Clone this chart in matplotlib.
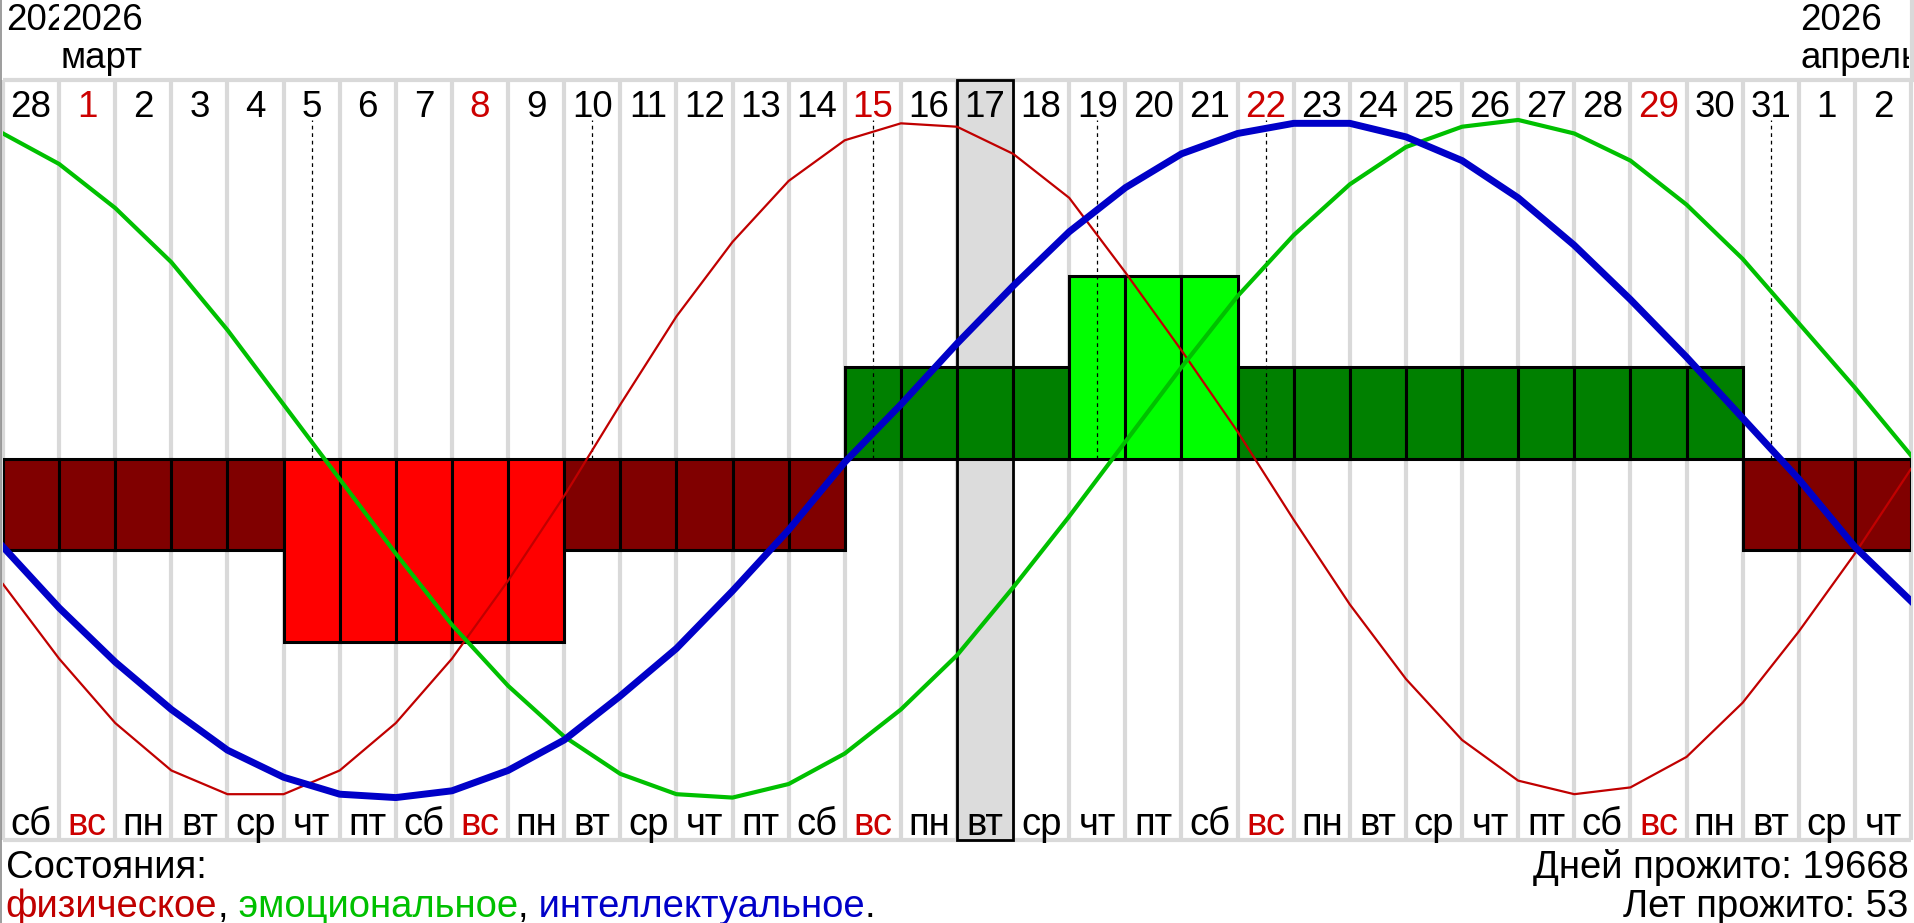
import matplotlib
matplotlib.use('Agg')
import matplotlib.pyplot as plt
import matplotlib.transforms as mtransforms
from matplotlib.patches import Rectangle

plt.rcParams['font.family'] = ['Liberation Sans', 'DejaVu Sans']

# columns: 28 Feb .. 2 Apr 2026
day_labels = ['28', '1', '2', '3', '4', '5', '6', '7', '8', '9', '10', '11', '12', '13', '14', '15', '16',
              '17', '18', '19', '20', '21', '22', '23', '24', '25', '26', '27', '28', '29', '30', '31', '1', '2']
week_labels = ['сб', 'вс', 'пн', 'вт', 'ср', 'чт', 'пт', 'сб', 'вс', 'пн', 'вт', 'ср', 'чт', 'пт', 'сб', 'вс', 'пн',
               'вт', 'ср', 'чт', 'пт', 'сб', 'вс', 'пн', 'вт', 'ср', 'чт', 'пт', 'сб', 'вс', 'пн', 'вт', 'ср', 'чт']
sunday_cols = [1, 8, 15, 22, 29]
today_col = 17
critical_cols = [5, 10, 15, 19, 22, 31]

# combined state per day: -2 .. 2
bar_levels = [-1, -1, -1, -1, -1, -2, -2, -2, -2, -2, -1, -1, -1, -1, -1, 1, 1, 1, 1,
              2, 2, 2, 1, 1, 1, 1, 1, 1, 1, 1, 1, -1, -1, -1]

# biorhythm values at column edges (35 points)
phys = [-0.37, -0.59, -0.78, -0.92, -0.99, -0.99, -0.92, -0.78, -0.59, -0.36, -0.11, 0.16, 0.42, 0.64,
        0.82, 0.94, 0.99, 0.98, 0.90, 0.77, 0.55, 0.32, 0.08, -0.18, -0.43, -0.65, -0.83, -0.95,
        -0.99, -0.97, -0.88, -0.72, -0.51, -0.28, -0.03]
emo = [0.96, 0.87, 0.74, 0.58, 0.38, 0.16, -0.06, -0.28, -0.49, -0.67, -0.82, -0.93, -0.99, -1.00,
       -0.96, -0.87, -0.74, -0.58, -0.38, -0.17, 0.05, 0.27, 0.48, 0.66, 0.81, 0.92, 0.98, 1.00,
       0.96, 0.88, 0.75, 0.59, 0.40, 0.21, 0.01]
intel = [-0.26, -0.44, -0.60, -0.74, -0.86, -0.94, -0.99, -1.00, -0.98, -0.92, -0.83, -0.70, -0.56,
         -0.39, -0.21, -0.01, 0.16, 0.34, 0.51, 0.67, 0.80, 0.90, 0.96, 0.99, 0.99, 0.95, 0.88, 0.77,
         0.63, 0.47, 0.30, 0.12, -0.06, -0.26, -0.42]

days_lived = 19668
years_lived = 53

# colors
clrPhys = '#c00000'
clrEmo = '#00c000'
clrIntel = '#0000c8'
clrSunday = '#cc0000'
clrGrid = '#d9d9d9'
bar_colors = {-2: '#ff0000', -1: '#800000', 1: '#008000', 2: '#00ff00'}
BAR_UNIT = 0.27
fsTop = 26.5
fsDay = 26.5
fsWeek = 27.5
fsInfo = 27.5

fig = plt.figure(figsize=(19.15, 9.23), dpi=100)
ax = fig.add_axes([3 / 1915, 0.090, 1908 / 1915, 0.823])
ylo, yhi = -1.125, 1.117
ax.set_xlim(0, 34)
ax.set_ylim(ylo, yhi)
ax.axis('off')

n = len(day_labels)
# grid
ax.vlines(range(n + 1), ylo, yhi, colors=clrGrid, lw=3, zorder=1, clip_on=False)
ax.hlines([ylo, yhi], 0, n, colors=clrGrid, lw=3, zorder=1, clip_on=False)

# today
ax.add_patch(Rectangle((today_col, ylo), 1, yhi - ylo, facecolor='#dcdcdc', edgecolor='black',
                       lw=2, zorder=2, clip_on=False))

# state bars
ax.bar(range(n), [lv * BAR_UNIT for lv in bar_levels], width=1, align='edge',
       color=[bar_colors[lv] for lv in bar_levels], edgecolor='black', linewidth=2.2, zorder=3)

# critical days
ax.vlines([c + 0.5 for c in critical_cols], 0, 1.0, colors='black', lw=0.9,
          linestyles=(0, (3, 3)), zorder=4)

# curves
xs = range(n + 1)
ax.plot(xs, phys, color=clrPhys, lw=1.6, zorder=5)
ax.plot(xs, emo, color=clrEmo, lw=3.0, zorder=6)
ax.plot(xs, intel, color=clrIntel, lw=5.0, zorder=7)

# day numbers / weekdays
for i in range(n):
    c = clrSunday if i in sunday_cols else 'black'
    ax.text(i + 0.5, 1.008, day_labels[i], ha='center', va='baseline', fontsize=fsDay, color=c,
            zorder=8, clip_on=False)
    ax.text(i + 0.5, -1.109, week_labels[i], ha='center', va='baseline', fontsize=fsWeek, color=c,
            zorder=8, clip_on=False)

# year / month headers
trans = mtransforms.blended_transform_factory(ax.transData, fig.transFigure)
fig.text(0.05, 0.968, '2026', transform=trans, fontsize=fsTop, va='baseline', zorder=5)
fig.add_artist(Rectangle((1, 0.93), 1.8, 0.07, transform=trans, facecolor='white',
                         edgecolor='none', zorder=6))
fig.text(1.03, 0.968, '2026', transform=trans, fontsize=fsTop, va='baseline', zorder=7)
fig.text(1.03, 0.926, 'март', transform=trans, fontsize=fsTop, va='baseline', zorder=7)
fig.text(32.03, 0.968, '2026', transform=trans, fontsize=fsTop, va='baseline', zorder=7)
t_apr = fig.text(32.03, 0.926, 'апрель', transform=trans, fontsize=fsTop, va='baseline', zorder=7)
t_apr.set_clip_path(Rectangle((0, 0), 1909 / 1915, 1, transform=fig.transFigure))

# borders
fig.add_artist(plt.Line2D([1.5 / 1915, 1.5 / 1915], [0, 1], color='#8c8c8c', lw=1.2))
fig.add_artist(plt.Line2D([1912.5 / 1915, 1912.5 / 1915], [0.913, 1], color=clrGrid, lw=3))

# legend text
fig.text(0.003, 0.049, 'Состояния:', fontsize=fsInfo, va='baseline')
pieces = [('физическое', clrPhys), (',', 'black'), (' эмоциональное', clrEmo), (',', 'black'),
          (' интеллектуальное', clrIntel), ('.', 'black')]
prev = fig.text(0.003, 0.007, pieces[0][0], fontsize=fsInfo, va='baseline', color=pieces[0][1])
for s, c in pieces[1:]:
    prev = ax.annotate(s, xy=(1, 0), xycoords=prev, va='bottom', fontsize=fsInfo, color=c,
                       annotation_clip=False)

fig.text(0.9965, 0.049, 'Дней прожито: %d' % days_lived, fontsize=fsInfo, va='baseline', ha='right')
fig.text(0.9965, 0.007, 'Лет прожито: %d' % years_lived, fontsize=fsInfo, va='baseline', ha='right')

fig.savefig('out.png', dpi=100)
